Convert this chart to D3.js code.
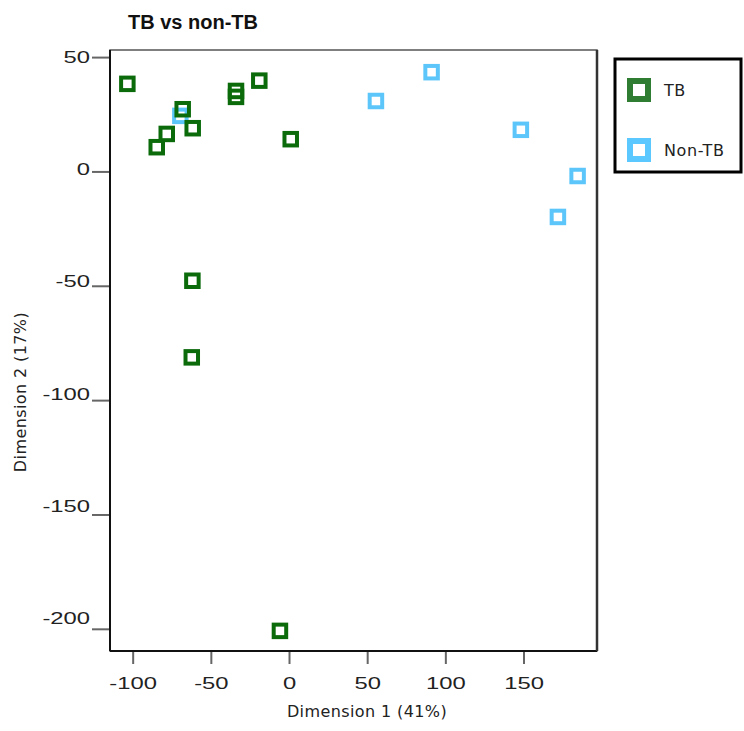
<!DOCTYPE html>
<meta charset="utf-8">
<style>
body { margin: 0; background: #fff; }
.axis text {
  font: 17px "Liberation Sans", Arial, sans-serif;
  fill: #222;
}
.axis line {
  stroke: #666;
  stroke-width: 2;
}
.axis path { display: none; }
.label {
  font: 16px "DejaVu Sans", sans-serif;
  fill: #222;
  letter-spacing: 0.4px;
}
</style>
<svg width="744" height="731" id="mds"></svg>
<script src="https://d3js.org/d3.v7.min.js"></script>
<script>
// TB group (dark green)
var tbX = [-103.4, -84.6, -78.2, -68.0, -61.6, -33.9, -33.9, -19.0, 1.1, -61.8, -62.2, -5.8];
var tbY = [38.3, 10.6, 16.4, 27.2, 18.9, 35.2, 32.6, 39.7, 14.1, -47.8, -81.3, -200.9];
// Non-TB group (light blue)
var nonX = [-69.5, 55.6, 91.2, 148.3, 172.0, 184.6];
var nonY = [24.3, 30.8, 43.4, 18.2, -19.9, -2.0];

var xTicks = [-100, -50, 0, 50, 100, 150];
var yTicks = [50, 0, -50, -100, -150, -200];
var groups = ["TB", "Non-TB"];

var svg = d3.select("#mds"),
    margin = {top: 50, right: 147, bottom: 80, left: 110},
    width = +svg.attr("width"),
    height = +svg.attr("height");

var x = d3.scaleLinear()
    .domain([-114.5, 197])
    .range([margin.left, width - margin.right]);

var y = d3.scaleLinear()
    .domain([-209.7, 53.1])
    .range([height - margin.bottom, margin.top]);

var tbColor = "#0b6b0b",
    nonColor = "#5cc6fb";

// title
svg.append("text")
    .attr("x", 128)
    .attr("y", 29)
    .attr("font-family", "Liberation Sans, Arial, sans-serif")
    .attr("font-weight", "bold")
    .attr("font-size", "20px")
    .attr("fill", "#111")
    .text("TB vs non-TB");

// x axis
svg.append("g")
    .attr("class", "axis")
    .attr("transform", `translate(0,${y.range()[0]})`)
    .call(d3.axisBottom(x).tickValues(xTicks).tickSize(13).tickPadding(0).tickFormat(d => String(d)))
    .call(g => g.selectAll(".tick text")
        .attr("y", 32)
        .attr("dy", "0.35em")
        .attr("transform", "scale(1.4,1)"));

// y axis
svg.append("g")
    .attr("class", "axis")
    .attr("transform", `translate(${x.range()[0]},0)`)
    .call(d3.axisLeft(y).tickValues(yTicks).tickSize(18).tickPadding(0).tickFormat(d => String(d)))
    .call(g => g.selectAll(".tick text")
        .attr("x", -20 / 1.4)
        .attr("y", d => (y(d) - y(50)) * -0.019)
        .attr("transform", "scale(1.4,1)"));

// frame
svg.append("rect")
    .attr("x", x.range()[0])
    .attr("y", y.range()[1])
    .attr("width", x.range()[1] - x.range()[0])
    .attr("height", y.range()[0] - y.range()[1])
    .attr("fill", "none")
    .attr("stroke", "#555")
    .attr("stroke-width", 1.5);
svg.append("line")
    .attr("x1", x.range()[0]).attr("x2", x.range()[0])
    .attr("y1", y.range()[1]).attr("y2", y.range()[0])
    .style("stroke", "#111").style("stroke-width", 2);
svg.append("line")
    .attr("x1", x.range()[0]).attr("x2", x.range()[1])
    .attr("y1", y.range()[0]).attr("y2", y.range()[0])
    .style("stroke", "#111").style("stroke-width", 2);
svg.append("line")
    .attr("x1", x.range()[1]).attr("x2", x.range()[1])
    .attr("y1", y.range()[1]).attr("y2", y.range()[0])
    .style("stroke", "#333").style("stroke-width", 2.5);

// points: non-TB first so TB sits on top
var size = 12.5;
svg.append("g")
  .selectAll("rect")
  .data(nonX.map((d, i) => [d, nonY[i]]))
  .enter().append("rect")
    .attr("x", d => x(d[0]) - size / 2)
    .attr("y", d => y(d[1]) - size / 2)
    .attr("width", size)
    .attr("height", size)
    .attr("fill", "none")
    .attr("stroke", nonColor)
    .attr("stroke-width", 4);

svg.append("g")
  .selectAll("rect")
  .data(tbX.map((d, i) => [d, tbY[i]]))
  .enter().append("rect")
    .attr("x", d => x(d[0]) - size / 2)
    .attr("y", d => y(d[1]) - size / 2)
    .attr("width", size)
    .attr("height", size)
    .attr("fill", "none")
    .attr("stroke", tbColor)
    .attr("stroke-width", 4);

// axis titles
svg.append("text")
    .attr("class", "label")
    .attr("x", 367)
    .attr("y", 717)
    .attr("text-anchor", "middle")
    .text("Dimension 1 (41%)");

svg.append("text")
    .attr("class", "label")
    .attr("transform", "translate(26,392) rotate(-90)")
    .attr("text-anchor", "middle")
    .text("Dimension 2 (17%)");

// legend
var legend = svg.append("g");
legend.append("rect")
    .attr("x", 615)
    .attr("y", 59)
    .attr("width", 126)
    .attr("height", 113)
    .attr("fill", "#fff")
    .attr("stroke", "#000")
    .attr("stroke-width", 3);

var legColor = d3.scaleOrdinal().domain(groups).range(["#2e7d32", "#5bc8ff"]);
var legY = d3.scalePoint().domain(groups).range([90, 150]);

legend.selectAll(".key")
  .data(groups)
  .enter().append("rect")
    .attr("x", 630)
    .attr("y", d => legY(d) - 9)
    .attr("width", 18)
    .attr("height", 18)
    .attr("fill", "#fff")
    .attr("stroke", d => legColor(d))
    .attr("stroke-width", 6);

legend.selectAll(".name")
  .data(groups)
  .enter().append("text")
    .attr("class", "label")
    .attr("x", 664)
    .attr("y", d => legY(d))
    .attr("dy", "0.35em")
    .style("letter-spacing", "0.6px")
    .text(d => d);
</script>
